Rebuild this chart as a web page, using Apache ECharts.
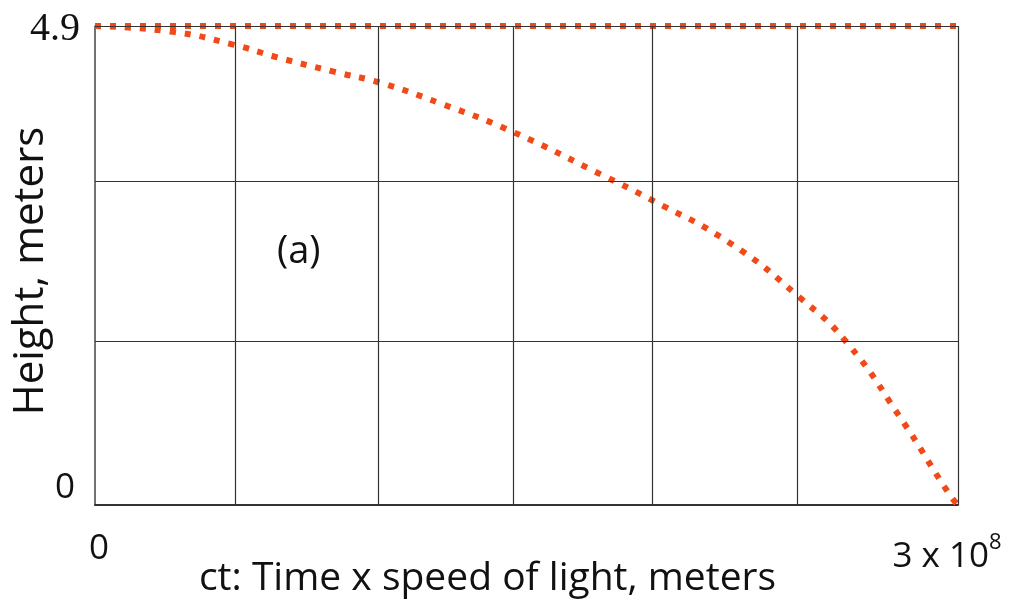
<!DOCTYPE html>
<html>
<head>
<meta charset="utf-8">
<script src="https://cdn.jsdelivr.net/npm/echarts@6/dist/echarts.min.js"></script>
<style>
  html, body { margin: 0; padding: 0; background: #fff; }
  #chart { width: 1017px; height: 607px; }
</style>
</head>
<body>
<div id="chart"></div>
<script>
// ct (meters) and height (meters)
var ctValues = [0, 0.271e8, 0.480e8, 0.633e8, 0.834e8, 0.991e8, 1.199e8, 1.450e8, 1.780e8, 1.922e8, 2.207e8, 2.451e8, 2.614e8, 2.798e8, 2.972e8, 3e8];
var heightValues = [4.9, 4.84, 4.71, 4.58, 4.43, 4.32, 4.11, 3.82, 3.35, 3.14, 2.68, 2.12, 1.66, 0.90, 0.10, 0];
var flatCt = [0, 3e8];
var flatHeight = [4.9, 4.9];
// grid lines of the original figure (not evenly spaced)
var gridCt = [0.487e8, 0.984e8, 1.453e8, 1.936e8, 2.440e8, 3e8];
var gridHeight = [1.678, 3.314, 4.9];
// tick labels
var xTickLabels = ['0', '3 x 10', '8'];
var yTickLabels = ['0', '4.9'];

var font = "'Open Sans', sans-serif";
var red = '#ef4a17';
var ink = '#111';

function pairs(xs, ys) {
    var out = [];
    for (var i = 0; i < xs.length; i++) out.push([xs[i], ys[i]]);
    return out;
}

var gridLines = [];
gridCt.forEach(function(v) { gridLines.push({ xAxis: v }); });
gridHeight.forEach(function(v) { gridLines.push({ yAxis: v }); });

var option = {
    backgroundColor: '#fff',
    animation: false,
    grid: { left: 95, right: 59, top: 26, bottom: 102, containLabel: false, outerBoundsMode: 'none' },
    xAxis: {
        type: 'value',
        min: 0,
        max: 3e8,
        interval: 3e8,
        name: 'ct: Time x speed of light, meters',
        nameLocation: 'middle',
        nameGap: 54,
        nameMoveOverlap: false,
        nameTextStyle: { fontFamily: font, fontSize: 39, color: ink, padding: [0, 78, 0, 0] },
        axisLine: { lineStyle: { color: '#333', width: 2 } },
        axisTick: { show: false },
        splitLine: { show: false },
        axisLabel: {
            margin: 27,
            formatter: function(v) {
                return v === 0 ? '{z|' + xTickLabels[0] + '}' : '{n|' + xTickLabels[1] + '}{sup|' + xTickLabels[2] + '}';
            },
            rich: {
                z: { fontFamily: font, fontSize: 35, color: ink, padding: [0, 0, 0, 8] },
                n: { fontFamily: font, fontSize: 35, color: ink, verticalAlign: 'bottom', padding: [8, 0, 0, 0] },
                sup: { fontFamily: font, fontSize: 22, color: ink, verticalAlign: 'top', padding: [0, 22, 0, 0] }
            }
        }
    },
    yAxis: {
        type: 'value',
        min: 0,
        max: 4.9,
        interval: 4.9,
        name: 'Height, meters',
        nameLocation: 'middle',
        nameGap: 43,
        nameRotate: 90,
        nameMoveOverlap: false,
        nameTextStyle: { fontFamily: font, fontSize: 42, color: ink, padding: [0, 11, 0, 0] },
        axisLine: { show: true, lineStyle: { color: '#444', width: 1.5 } },
        axisTick: { show: false },
        splitLine: { show: false },
        axisLabel: {
            margin: 15,
            formatter: function(v) { return v === 0 ? '{z|' + yTickLabels[0] + '}' : '{t|' + yTickLabels[1] + '}'; },
            rich: {
                t: { fontFamily: "'Liberation Serif', serif", fontSize: 40, color: ink, padding: [6, 0, 0, 0] },
                z: { fontFamily: font, fontSize: 35, color: ink, padding: [0, 5, 34, 0] }
            }
        }
    },
    graphic: [{
        type: 'text',
        left: 277,
        top: 233,
        style: { text: '(a)', fontFamily: font, fontSize: 38, fill: ink }
    }],
    series: [
        {
            name: 'grid',
            type: 'line',
            data: [],
            z: 1,
            markLine: {
                silent: true,
                symbol: 'none',
                label: { show: false },
                lineStyle: { color: '#333', width: 1.2, type: 'solid' },
                data: gridLines
            }
        },
        {
            name: 'flat',
            type: 'line',
            z: 3,
            showSymbol: false,
            data: pairs(flatCt, flatHeight),
            lineStyle: { color: red, width: 6, type: [6, 9] }
        },
        {
            name: 'fall',
            type: 'line',
            z: 3,
            smooth: true,
            showSymbol: false,
            data: pairs(ctValues, heightValues),
            lineStyle: { color: red, width: 6, type: [6, 9] }
        }
    ]
};

var myChart = echarts.init(document.getElementById('chart'));
myChart.setOption(option);
</script>
</body>
</html>
